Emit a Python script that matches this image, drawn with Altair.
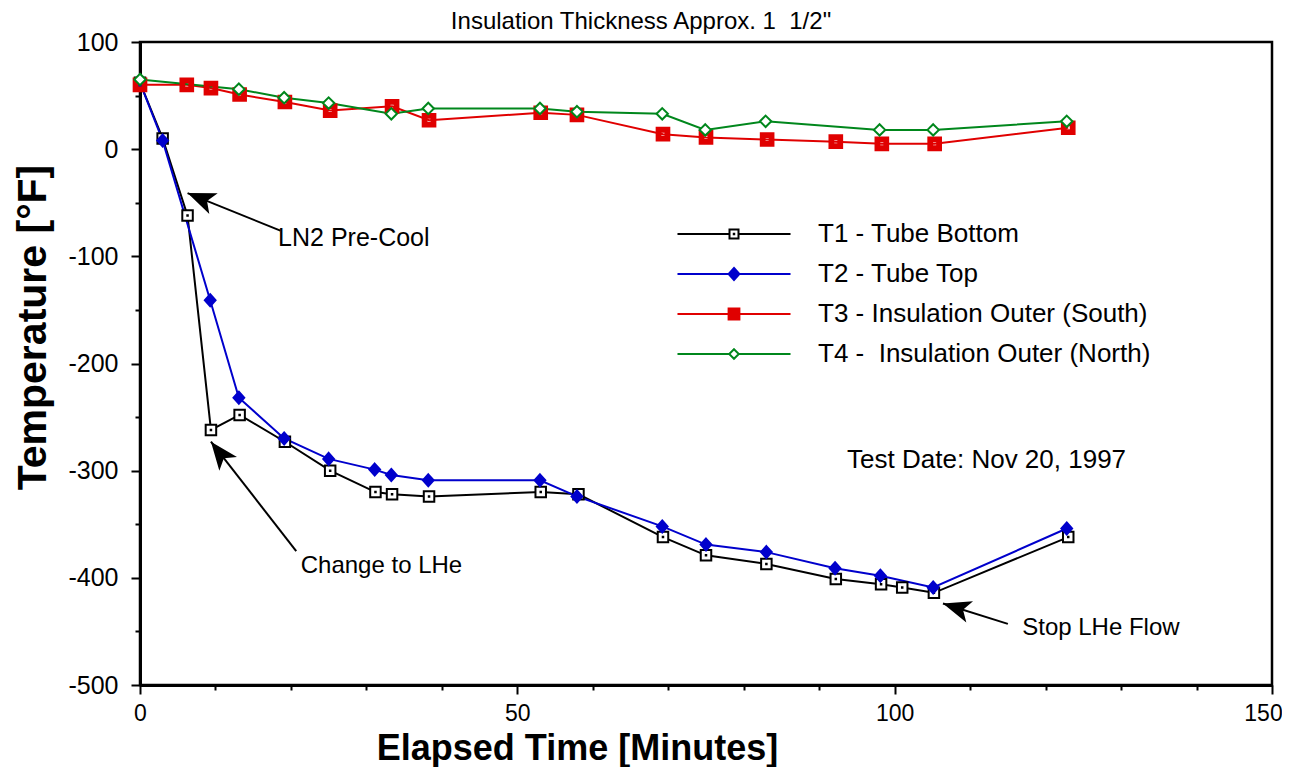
import math
import altair as alt
import pandas as pd

# ---------------- data ----------------
series_names = [
    "T1 - Tube Bottom",
    "T2 - Tube Top",
    "T3 - Insulation Outer (South)",
    "T4 -\u00a0 Insulation Outer (North)",
]

t1_time = [0, 3.0, 6.3, 9.4, 13.2, 19.2, 25.2, 31.2, 33.4, 38.3, 53.1, 58.1, 69.3, 75.0, 83.0, 92.2, 98.2, 101.0, 105.2, 123.0]
t1_temp = [62, 10, -62, -262, -248, -273, -300, -320, -322, -324, -320, -322, -362, -379, -387, -401, -406, -409, -414, -362]

t2_time = [0, 3.0, 9.3, 13.1, 19.1, 25.0, 31.1, 33.3, 38.2, 53.0, 57.9, 69.2, 75.0, 83.0, 92.1, 98.1, 105.1, 122.8]
t2_temp = [62, 8, -141, -232, -270, -289, -299, -304, -309, -309, -324, -352, -369, -376, -391, -398, -409, -354]

t3_time = [0, 6.2, 9.4, 13.2, 19.2, 25.2, 33.4, 38.3, 53.1, 57.9, 69.3, 75.0, 83.1, 92.2, 98.3, 105.3, 123.0]
t3_temp = [60, 60, 57, 51, 44, 36, 40, 27, 34, 32, 14, 11, 9, 7, 5, 5, 20]

t4_time = [0, 13.1, 19.1, 25.0, 33.3, 38.2, 53.0, 57.9, 69.2, 74.9, 82.9, 98.0, 105.1, 122.8]
t4_temp = [65, 56, 48, 43, 33, 38, 38, 35, 33, 18, 26, 18, 18, 26]

x_ticks = list(range(0, 151, 10))
y_ticks = list(range(-500, 101, 50))

title_text = "Insulation Thickness Approx. 1\u00a0 1/2\""

note_text = ["LN2 Pre-Cool", "Change to LHe", "Stop LHe Flow", "Test Date: Nov 20, 1997"]
note_time = [18.3, 21.3, 116.9, 93.7]
note_temp = [-83, -389, -447, -290]

arrow_tail_time = [18.6, 20.7, 115.0]
arrow_tail_temp = [-76, -375, -443]
arrow_head_time = [6.3, 9.4, 106.4]
arrow_head_temp = [-41, -273, -424]

# ---------------- styles ----------------
FONT = "Liberation Sans"
W, H = 1132, 643
line_colors = ["#000000", "#0000cc", "#e00000", "#00871c"]
fill_colors = ["#ffffff", "#0000cc", "#e00000", "#ffffff"]
note_font_sizes = [25, 24, 24, 26]

marker_paths = [
    "M-0.83,-0.83H0.83V0.83H-0.83ZM-0.04,-0.04H0.04V0.04H-0.04Z",
    "M0,-0.95L0.85,0L0,0.95L-0.85,0Z",
    "M-1,-1H1V1H-1ZM-0.4,-0.4V0.4H0.4V-0.4Z",
    "M0,-0.9L0.9,0L0,0.9L-0.9,0Z",
]
L = 9.42
legend_paths = [
    f"M-{L},0H-0.75M0.75,0H{L}M-0.75,-0.75H0.75V0.75H-0.75ZM-0.04,-0.04H0.04V0.04H-0.04Z",
    f"M-{L},0H{L}M0,-1L0.9,0L0,1L-0.9,0Z",
    f"M-{L},0H{L}M-0.9,-0.9H0.9V0.9H-0.9ZM-0.32,-0.32V0.32H0.32V-0.32Z",
    f"M-{L},0H-0.8M0.8,0H{L}M0,-0.8L0.8,0L0,0.8L-0.8,0Z",
]
arrow_path = "M0,0L0.8,2L0,1.5L-0.8,2Z"

# ---------------- tables ----------------
rows = []
for i, (name, ts, vs) in enumerate(zip(series_names,
                                       [t1_time, t2_time, t3_time, t4_time],
                                       [t1_temp, t2_temp, t3_temp, t4_temp])):
    for t, v in zip(ts, vs):
        rows.append({"series": name, "time": t, "temp": v, "k": i})
df = pd.DataFrame(rows)

notes = pd.DataFrame({"text": note_text, "time": note_time, "temp": note_temp, "fs": note_font_sizes})

angles = []
for tx, ty, hx, hy in zip(arrow_tail_time, arrow_tail_temp, arrow_head_time, arrow_head_temp):
    dx = (hx - tx) * W / 150.0
    dy = -(hy - ty) * H / 600.0
    angles.append(math.degrees(math.atan2(dx, -dy)) % 360)
arrows = pd.DataFrame({"tt": arrow_tail_time, "ty": arrow_tail_temp,
                       "ht": arrow_head_time, "hy": arrow_head_temp, "ang": angles})

# ---------------- scales / axes ----------------
xs = alt.Scale(domain=[0, 150], nice=False, zero=False)
ys = alt.Scale(domain=[-500, 100], nice=False, zero=False)

x_axis = alt.Axis(
    values=x_ticks,
    labelExpr="datum.value % 50 === 0 ? '' + datum.value : ''",
    tickSize={"condition": {"test": "datum.value % 50 === 0", "value": 9}, "value": 5},
    labelOffset={"condition": {"test": "datum.value === 150", "value": -9}, "value": 0},
    labelPadding=8,
    labelFontSize=23,
    labelFlush=False,
    title="Elapsed Time [Minutes]",
    titleFontSize=36,
    titleFontWeight="bold",
    titleX=437,
    titleY=63,
    titleAlign="center",
    titleBaseline="middle",
)
y_axis = alt.Axis(
    values=y_ticks,
    labelExpr="datum.value % 100 === 0 ? '' + datum.value : ''",
    tickSize={"condition": {"test": "datum.value % 100 === 0", "value": 9}, "value": 5},
    labelPadding=13,
    labelFontSize=25,
    labelFlush=False,
    title="Temperature [°F]",
    titleFontSize=41,
    titleFontWeight="bold",
    titleX=-107,
    titleY=285,
    titleAngle=270,
    titleAlign="center",
    titleBaseline="middle",
)

X = alt.X("time:Q", scale=xs, axis=x_axis)
Y = alt.Y("temp:Q", scale=ys, axis=y_axis)

base = alt.Chart(df)

lines = base.mark_line(strokeWidth=2).encode(
    x=X, y=Y,
    color=alt.Color("series:N", scale=alt.Scale(domain=series_names, range=line_colors), legend=None),
    order=alt.Order("time:Q"),
)

points = base.mark_point(filled=True, opacity=1, strokeWidth=2, size=160).encode(
    x=X, y=Y,
    shape=alt.Shape("series:N", scale=alt.Scale(domain=series_names, range=marker_paths), legend=None),
    fill=alt.Fill("series:N", scale=alt.Scale(domain=series_names, range=fill_colors), legend=None),
    stroke=alt.Stroke("series:N", scale=alt.Scale(domain=series_names, range=line_colors), legend=None),
    order=alt.Order("k:Q"),
)

leg = alt.Legend(
    title=None, orient="none", legendX=581, legendY=179,
    symbolSize=144, symbolStrokeWidth=2, symbolOpacity=1,
    labelFont=FONT, labelFontSize=26, labelColor="black", labelOffset=71,
    labelLimit=800, rowPadding=14, padding=0,
)
legend_layer = base.transform_filter("datum.temp > 100000").mark_point(filled=True, opacity=1, size=144).encode(
    x=X, y=Y,
    shape=alt.Shape("series:N", scale=alt.Scale(domain=series_names, range=legend_paths), legend=leg),
    fill=alt.Fill("series:N", scale=alt.Scale(domain=series_names, range=fill_colors), legend=leg),
    stroke=alt.Stroke("series:N", scale=alt.Scale(domain=series_names, range=line_colors), legend=leg),
)

texts = alt.Chart(notes).mark_text(align="left", baseline="middle", font=FONT, color="black").encode(
    x=alt.X("time:Q", scale=xs), y=alt.Y("temp:Q", scale=ys), text="text:N",
    size=alt.Size("fs:Q", scale=None),
)

arrow_lines = alt.Chart(arrows).mark_rule(strokeWidth=2, color="black").encode(
    x=alt.X("tt:Q", scale=xs), y=alt.Y("ty:Q", scale=ys),
    x2="ht:Q", y2="hy:Q",
)
arrow_heads = alt.Chart(arrows).mark_point(shape=arrow_path, filled=True, color="black", opacity=1, size=784, strokeWidth=0).encode(
    x=alt.X("ht:Q", scale=xs), y=alt.Y("hy:Q", scale=ys),
    angle=alt.Angle("ang:Q", scale=None),
)

# chart title, drawn as a text mark above the frame
title_mark = alt.Chart(pd.DataFrame({"t": [title_text]})).mark_text(
    align="center", baseline="alphabetic", font=FONT, fontSize=24, color="black"
).encode(
    text="t:N", x=alt.value(501), y=alt.value(-13)
)

chart = alt.layer(
    lines, points, legend_layer, arrow_lines, arrow_heads, texts, title_mark
).resolve_scale(
    shape="independent", fill="independent", stroke="independent"
).properties(
    width=W, height=H,
    autosize=alt.AutoSizeParams(type="none"),
    padding={"left": 132, "top": 34, "right": 10, "bottom": 82},
).configure_view(
    stroke="black", strokeWidth=2.5
).configure_axis(
    grid=False, domainColor="black", domainWidth=3, tickColor="black", tickWidth=2,
    labelColor="black", labelFont=FONT, titleFont=FONT, titleColor="black",
)

chart.save("out.html", embed_options={"renderer": "svg", "actions": False})
